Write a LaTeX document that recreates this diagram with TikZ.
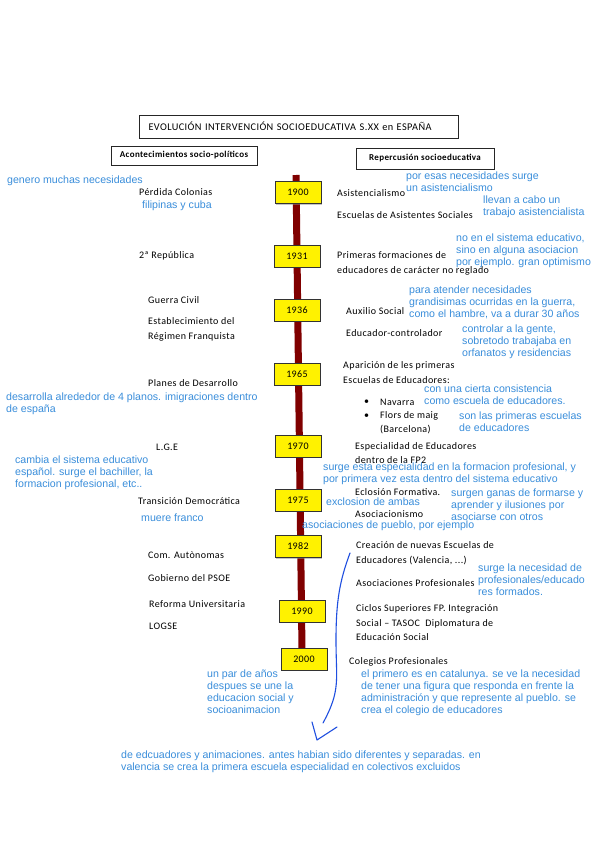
\documentclass[tikz,border=0pt]{standalone}
\usepackage{fontspec}
\setmainfont{Carlito}[LetterSpace=4]
\newfontfamily\hand{Liberation Sans}
\usetikzlibrary{shadows}
\definecolor{hblue}{HTML}{3A8EDB}
\definecolor{pen}{HTML}{1F4FE0}
\definecolor{barred}{HTML}{800000}
\begin{document}
\begin{tikzpicture}[x=1pt,y=-1pt,
  blk/.style={anchor=west,inner sep=0pt,font=\fontsize{10}{14.5}\selectfont,align=left},
  note/.style={anchor=west,inner sep=0pt,text=hblue,font=\hand\fontsize{10.6}{12}\selectfont,align=left},
  yearbox/.style={draw=black!80,line width=0.9pt,fill=yellow,minimum width=46pt,minimum height=22pt,inner sep=0pt,
    font=\fontsize{10}{10}\selectfont,drop shadow={shadow xshift=1.2pt,shadow yshift=-1.2pt,fill=black!45}},
  hdr/.style={draw=black!85,line width=0.9pt,fill=white,inner sep=0pt,
    drop shadow={shadow xshift=1pt,shadow yshift=-1pt,fill=black!45}}]
\useasboundingbox[fill=white] (0,0) rectangle (599,848);

% headers
\node[hdr,minimum width=319pt,minimum height=23pt,text width=300pt,align=left,font=\fontsize{10.3}{11}\selectfont] (title) at (298.5,126.5) {EVOLUCIÓN INTERVENCIÓN SOCIOEDUCATIVA S.XX en ESPAÑA};
\node[hdr,minimum width=146pt,minimum height=19pt,font=\bfseries\fontsize{9}{10}\selectfont] (hleft) at (184,155.5) {Acontecimientos socio-políticos};
\node[hdr,minimum width=138pt,minimum height=21pt,font=\bfseries\fontsize{9}{10}\selectfont] (hright) at (425,158.5) {Repercusión socioeducativa};

% timeline bar
\coordinate (btop) at (296,175);
\coordinate (bbot) at (302,650);
\draw[barred,line width=7pt] (btop) -- (bbot);

% year boxes
\node[yearbox] (y1900) at (298,192.5) {1900};
\node[yearbox] (y1931) at (297,256) {1931};
\node[yearbox] (y1936) at (297,310) {1936};
\node[yearbox] (y1965) at (297,374) {1965};
\node[yearbox] (y1970) at (298,446) {1970};
\node[yearbox] (y1975) at (298,500) {1975};
\node[yearbox] (y1982) at (298,546.5) {1982};
\node[yearbox] (y1990) at (302,611) {1990};
\node[yearbox] (y2000) at (304,659) {2000};

% left column
\node[note] (n1) at (7,181) {genero muchas necesidades};
\node[blk] (l1) at (139,192) {Pérdida Colonias};
\node[note] (n2) at (142,206) {filipinas y cuba};
\node[blk] (l2) at (139,256) {2ª República};
\node[blk] (l3) at (148,300) {Guerra Civil};
\node[blk] (l4) at (148,329.5) {Establecimiento del\\Régimen Franquista};
\node[blk] (l5) at (148,383) {Planes de Desarrollo};
\node[note] (n3) at (6,404) {desarrolla alrededor de 4 planos. imigraciones dentro\\de españa};
\node[blk] (l6) at (156,447) {L.G.E};
\node[note] (n4) at (15,473) {cambia el sistema educativo\\español. surge el bachiller, la\\formacion profesional, etc..};
\node[blk] (l7) at (138,501) {Transición Democrática};
\node[note] (n5) at (141,518) {muere franco};
\node[blk] (l8) at (148,555) {Com. Autònomas};
\node[blk] (l9) at (148,578) {Gobierno del PSOE};
\node[blk] (l10) at (149,604) {Reforma Universitaria};
\node[blk] (l11) at (149,626) {LOGSE};
\node[note] (n6) at (207,691.5) {un par de años\\despues se une la\\educacion social y\\socioanimacion};

% right column
\node[blk] (r1) at (337,193) {Asistencialismo};
\node[note] (m1) at (406,181.5) {por esas necesidades surge\\un asistencialismo};
\node[blk] (r2) at (337,215) {Escuelas de Asistentes Sociales};
\node[note] (m2) at (483,207) {llevan a cabo un\\trabajo asistencialista};
\node[blk] (r3) at (337,263.5) {Primeras formaciones de\\educadores de carácter no reglado};
\node[note] (m3) at (456,250.5) {no en el sistema educativo,\\sino en alguna asociacion\\por ejemplo. gran optimismo};
\node[blk] (r4) at (346,311) {Auxilio Social};
\node[note] (m4) at (409,302.5) {para atender necesidades\\grandisimas ocurridas en la guerra,\\como el hambre, va a durar 30 años};
\node[blk] (r5) at (346,333) {Educador-controlador};
\node[note] (m5) at (462,342) {controlar a la gente,\\sobretodo trabajaba en\\orfanatos y residencias};
\node[blk] (r6) at (343,372.5) {Aparición de les primeras\\Escuelas de Educadores:};
\node[note] (m6) at (424,395) {con una cierta consistencia\\como escuela de educadores.};
\node[blk] (b1) at (364,402) {•};
\node[blk] (r7) at (380,402) {Navarra};
\node[blk] (b2) at (364,416) {•};
\node[blk] (r8) at (380,422.5) {Flors de maig\\(Barcelona)};
\node[note] (m7) at (459,421.5) {son las primeras escuelas\\de educadores};
\node[blk] (r9) at (355,453) {Especialidad de Educadores\\dentro de la FP2};
\node[note] (m8) at (323,474) {surge esta especialidad en la formacion profesional, y\\por primera vez esta dentro del sistema educativo};
\node[blk] (r10) at (355,492) {Eclosión Formativa.};
\node[note] (m9) at (326,502) {exclosion de ambas};
\node[blk] (r11) at (355,514) {Asociacionismo};
\node[note] (m10) at (451,504.5) {surgen ganas de formarse y\\aprender y ilusiones por\\asociarse con otros};
\node[note] (m11) at (302,526) {asociaciones de pueblo, por ejemplo};
\node[blk] (r12) at (356,553) {Creación de nuevas Escuelas de\\Educadores (Valencia, ...)};
\node[blk] (r13) at (356,583) {Asociaciones Profesionales};
\node[note] (m12) at (478,580) {surge la necesidad de\\profesionales/educado\\res formados.};
\node[blk] (r14) at (356,623) {Ciclos Superiores FP. Integración\\Social – TASOC\ \ Diplomatura de\\Educación Social};
\node[blk] (r15) at (349,662) {Colegios Profesionales};
\node[note] (m13) at (361,692.5) {el primero es en catalunya. se ve la necesidad\\de tener una figura que responda en frente la\\administración y que represente al pueblo. se\\crea el colegio de educadores};
\node[note] (m14) at (121,761.5) {de edcuadores y animaciones. antes habian sido diferentes y separadas. en\\valencia se crea la primera escuela especialidad en colectivos excluidos};

% hand-drawn pen stroke and arrow
\coordinate (p0) at (350,553);
\coordinate (p1) at (336,640);
\coordinate (p2) at (323,723);
\coordinate (a1) at (312,722);
\coordinate (a2) at (317,740);
\coordinate (a3) at (337,727);
\draw[pen,line width=1.1pt,line cap=round,line join=round]
  (p0) .. controls (340,580) and (336,600) .. (p1)
  .. controls (336,680) and (341,690) .. (p2);
\draw[pen,line width=1.1pt,line cap=round,line join=round] (a1) -- (a2) -- (a3);
\end{tikzpicture}
\end{document}
